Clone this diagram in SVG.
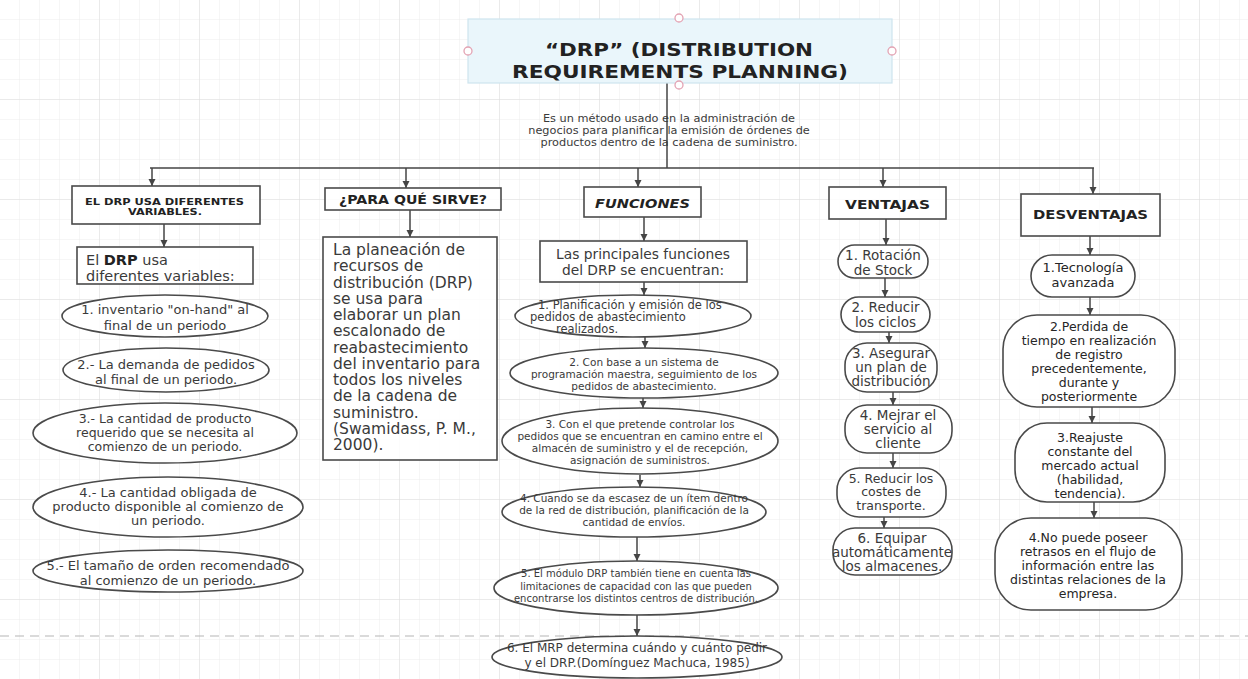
<svg xmlns="http://www.w3.org/2000/svg" width="1248" height="679" viewBox="0 0 1248 679">
<style>
.ln{stroke:#454545;stroke-width:1.5;fill:none}
.ar{stroke:#454545;stroke-width:1.5;fill:none;marker-end:url(#ah)}
.box{fill:#fff;fill-opacity:0.85;stroke:#4a4a4a;stroke-width:1.6}
.t{font-family:"DejaVu Sans","Liberation Sans",sans-serif;fill:#3a3a3a}
.c{text-anchor:middle}
.hd{font-family:"DejaVu Sans","Liberation Sans",sans-serif;font-weight:bold;fill:#222;text-anchor:middle}
.dk{fill:#262626}
</style>
<defs>
<pattern id="g" width="20" height="20" patternUnits="userSpaceOnUse">
<path d="M20 0V20M0 20H20" stroke="#ececec" stroke-width="1" fill="none"/>
</pattern>
<pattern id="G" width="100" height="100" patternUnits="userSpaceOnUse">
<path d="M100 0V100M0 100H100" stroke="#dedede" stroke-width="1" fill="none"/>
</pattern>
<marker id="ah" markerWidth="8" markerHeight="8" refX="7" refY="4" orient="auto" markerUnits="userSpaceOnUse">
<path d="M0,0.5 L7,4 L0,7.5 Z" fill="#454545"/>
</marker>
</defs>
<rect width="1248" height="679" fill="#fff"/>
<rect width="1248" height="679" fill="url(#g)"/>
<rect width="1248" height="679" fill="url(#G)"/>
<line x1="0" y1="636" x2="1248" y2="636" stroke="#b5b5b5" stroke-width="1.2" stroke-dasharray="9 6"/>

<g id="connectors">
<line class="ln" x1="667" y1="83" x2="667" y2="168"/>
<line class="ln" x1="150" y1="168" x2="1094" y2="168"/>
<line class="ar" x1="152" y1="168" x2="152" y2="186"/>
<line class="ar" x1="406" y1="168" x2="406" y2="188"/>
<line class="ar" x1="638" y1="168" x2="638" y2="187"/>
<line class="ar" x1="883" y1="168" x2="883" y2="187"/>
<line class="ar" x1="1093" y1="168" x2="1093" y2="194"/>
<line class="ar" x1="164" y1="224" x2="164" y2="247"/>
<line class="ar" x1="410" y1="210" x2="410" y2="237"/>
<line class="ar" x1="644" y1="217" x2="644" y2="241"/>
<line class="ar" x1="644" y1="282" x2="644" y2="295"/>
<line class="ar" x1="645" y1="337" x2="645" y2="348"/>
<line class="ar" x1="643" y1="398" x2="643" y2="408"/>
<line class="ar" x1="640" y1="475" x2="640" y2="487"/>
<line class="ar" x1="637" y1="537" x2="637" y2="561"/>
<line class="ar" x1="637" y1="615" x2="637" y2="636"/>
<line class="ar" x1="886" y1="219" x2="886" y2="245"/>
<line class="ar" x1="885" y1="278" x2="885" y2="297"/>
<line class="ar" x1="889" y1="332" x2="889" y2="343"/>
<line class="ar" x1="893" y1="392" x2="893" y2="405"/>
<line class="ar" x1="893" y1="453" x2="893" y2="468"/>
<line class="ar" x1="884" y1="517" x2="884" y2="528"/>
<line class="ar" x1="1090" y1="236" x2="1090" y2="255"/>
<line class="ar" x1="1090" y1="297" x2="1090" y2="315"/>
<line class="ar" x1="1092" y1="407" x2="1092" y2="423"/>
<line class="ar" x1="1094" y1="502" x2="1094" y2="518"/>
</g>

<g id="title">
<rect x="468" y="19" width="424" height="64" fill="#eaf6fb" stroke="#cde4ee" stroke-width="1.2"/>
<text class="hd" x="679" y="56" font-size="18.5" textLength="268" lengthAdjust="spacingAndGlyphs" fill="#111">“DRP” (DISTRIBUTION</text>
<text class="hd" x="680" y="78" font-size="18.5" textLength="336" lengthAdjust="spacingAndGlyphs" fill="#111">REQUIREMENTS PLANNING)</text>
<g fill="#fff" stroke="#e3a3b3" stroke-width="1.3">
<circle cx="679" cy="18" r="4"/><circle cx="679" cy="85" r="4"/><circle cx="468" cy="51" r="4"/><circle cx="892" cy="51" r="4"/>
</g>
</g>

<g id="desc">
<text class="t c" x="669" y="122" font-size="11.3">Es un método usado en la administración de</text>
<text class="t c" x="669" y="134" font-size="11.3">negocios para planificar la emisión de órdenes de</text>
<text class="t c" x="669" y="146" font-size="11.3">productos dentro de la cadena de suministro.</text>
</g>

<g id="col1-header">
<rect class="box" x="72" y="186" width="188" height="38"/>
<text class="hd" x="164.5" y="204.5" font-size="9" textLength="159" lengthAdjust="spacingAndGlyphs" fill="#444">EL DRP USA DIFERENTES</text>
<text class="hd" x="165" y="214.5" font-size="9" textLength="74" lengthAdjust="spacingAndGlyphs" fill="#444">VARIABLES.</text>
</g>
<g id="col1-intro">
<rect class="box" x="77" y="247" width="176" height="37"/>
<text class="t" x="86" y="265" font-size="14.5">El <tspan font-weight="bold" fill="#222">DRP</tspan> usa</text>
<text class="t" x="86" y="281" font-size="14.5">diferentes variables:</text>
</g>
<g id="col1-v1">
<ellipse class="box" cx="165" cy="316" rx="103" ry="21"/>
<text class="t c" x="165" y="314" font-size="13">1. inventario "on-hand" al</text>
<text class="t c" x="165" y="330" font-size="13">final de un periodo</text>
</g>
<g id="col1-v2">
<ellipse class="box" cx="166" cy="370" rx="103" ry="22"/>
<text class="t c" x="166" y="369" font-size="13">2.- La demanda de pedidos</text>
<text class="t c" x="166" y="384" font-size="13">al final de un periodo.</text>
</g>
<g id="col1-v3">
<ellipse class="box" cx="165" cy="433" rx="132" ry="30"/>
<text class="t c" x="165" y="423" font-size="12.5">3.- La cantidad de producto</text>
<text class="t c" x="165" y="437" font-size="12.5">requerido que se necesita al</text>
<text class="t c" x="165" y="451" font-size="12.5">comienzo de un periodo.</text>
</g>
<g id="col1-v4">
<ellipse class="box" cx="168" cy="507" rx="135" ry="30"/>
<text class="t c" x="168" y="497" font-size="13">4.- La cantidad obligada de</text>
<text class="t c" x="168" y="511" font-size="13">producto disponible al comienzo de</text>
<text class="t c" x="168" y="525" font-size="13">un periodo.</text>
</g>
<g id="col1-v5">
<ellipse class="box" cx="168" cy="571" rx="135" ry="21"/>
<text class="t c" x="168" y="570" font-size="13">5.- El tamaño de orden recomendado</text>
<text class="t c" x="168" y="585" font-size="13">al comienzo de un periodo.</text>
</g>

<g id="col2-header">
<rect class="box" x="325" y="188" width="176" height="22"/>
<text class="hd" x="413" y="204" font-size="12" textLength="148" lengthAdjust="spacingAndGlyphs">¿PARA QUÉ SIRVE?</text>
</g>
<g id="col2-body">
<rect class="box" x="323" y="237" width="174" height="223"/>
<g class="t" font-size="15.5">
<text x="333" y="255">La planeación de</text>
<text x="333" y="271">recursos de</text>
<text x="333" y="287.5">distribución (DRP)</text>
<text x="333" y="304">se usa para</text>
<text x="333" y="320">elaborar un plan</text>
<text x="333" y="336">escalonado de</text>
<text x="333" y="352.5">reabastecimiento</text>
<text x="333" y="369">del inventario para</text>
<text x="333" y="385">todos los niveles</text>
<text x="333" y="401">de la cadena de</text>
<text x="333" y="417.5">suministro.</text>
<text x="333" y="434">(Swamidass, P. M.,</text>
<text x="333" y="450">2000).</text>
</g>
</g>

<g id="col3-header">
<rect class="box" x="584" y="187" width="117" height="30"/>
<text class="hd" x="642.5" y="208" font-size="13" font-style="italic" textLength="95" lengthAdjust="spacingAndGlyphs">FUNCIONES</text>
</g>
<g id="col3-intro">
<rect class="box" x="540" y="241" width="207" height="41"/>
<text class="t c" x="643" y="259" font-size="13.8">Las principales funciones</text>
<text class="t c" x="643" y="275" font-size="13.8">del DRP se encuentran:</text>
</g>
<g id="col3-f1">
<ellipse class="box" cx="633" cy="316" rx="118" ry="21"/>
<text class="t" x="538" y="309" font-size="11.5">1. Planificación y emisión de los</text>
<text class="t" x="530" y="321" font-size="11.5">pedidos de abastecimiento</text>
<text class="t" x="556" y="333" font-size="11.5">realizados.</text>
</g>
<g id="col3-f2">
<ellipse class="box" cx="644" cy="373" rx="134" ry="25"/>
<text class="t c" x="644" y="366" font-size="10.5">2. Con base a un sistema de</text>
<text class="t c" x="644" y="378" font-size="10.5">programación maestra, seguimiento de los</text>
<text class="t c" x="644" y="390" font-size="10.5">pedidos de abastecimiento.</text>
</g>
<g id="col3-f3">
<ellipse class="box" cx="640" cy="441" rx="138" ry="33"/>
<text class="t c" x="640" y="428" font-size="10.5">3. Con el que pretende controlar los</text>
<text class="t c" x="640" y="440" font-size="10.5">pedidos que se encuentran en camino entre el</text>
<text class="t c" x="640" y="452" font-size="10.5">almacén de suministro y el de recepción,</text>
<text class="t c" x="640" y="464" font-size="10.5">asignación  de suministros.</text>
</g>
<g id="col3-f4">
<ellipse class="box" cx="634" cy="512" rx="132" ry="25"/>
<text class="t c" x="634" y="502" font-size="10.5">4. Cuando se da escasez de un ítem dentro</text>
<text class="t c" x="634" y="514" font-size="10.5">de la red de distribución, planificación de la</text>
<text class="t c" x="634" y="526" font-size="10.5">cantidad de envíos.</text>
</g>
<g id="col3-f5">
<ellipse class="box" cx="636" cy="588" rx="142" ry="27"/>
<text class="t c" x="636" y="577" font-size="10">5. El módulo DRP también tiene en cuenta las</text>
<text class="t c" x="636" y="590" font-size="10">limitaciones de capacidad con las que pueden</text>
<text class="t c" x="636" y="602" font-size="10">encontrarse los distintos centros de distribución.</text>
</g>
<g id="col3-f6">
<ellipse class="box" cx="637" cy="657" rx="145" ry="21"/>
<text class="t c" x="637" y="652" font-size="12">6. El MRP determina cuándo y cuánto pedir</text>
<text class="t c" x="637" y="667" font-size="12">y el DRP.(Domínguez Machuca, 1985)</text>
</g>

<g id="col4-header">
<rect class="box" x="829" y="187" width="117" height="32"/>
<text class="hd" x="887.5" y="209" font-size="13" textLength="85" lengthAdjust="spacingAndGlyphs">VENTAJAS</text>
</g>
<g id="col4-v1">
<rect class="box" x="838" y="245" width="90" height="33" rx="16.5"/>
<text class="t c" x="883" y="259.5" font-size="13.5">1. Rotación</text>
<text class="t c" x="883" y="274.5" font-size="13.5">de Stock</text>
</g>
<g id="col4-v2">
<rect class="box" x="841" y="297" width="89" height="35" rx="17.5"/>
<text class="t c" x="885.5" y="311.5" font-size="13.5">2. Reducir</text>
<text class="t c" x="885.5" y="326.5" font-size="13.5">los ciclos</text>
</g>
<g id="col4-v3">
<rect class="box" x="845" y="343" width="92" height="49" rx="22"/>
<text class="t c" x="891" y="357.5" font-size="13.5">3. Asegurar</text>
<text class="t c" x="891" y="371.5" font-size="13.5">un plan de</text>
<text class="t c" x="891" y="386" font-size="13.5">distribución</text>
</g>
<g id="col4-v4">
<rect class="box" x="845" y="405" width="107" height="48" rx="22"/>
<text class="t c" x="898" y="419.5" font-size="13.5">4. Mejrar el</text>
<text class="t c" x="898" y="433.5" font-size="13.5">servicio al</text>
<text class="t c" x="898" y="447.5" font-size="13.5">cliente</text>
</g>
<g id="col4-v5">
<rect class="box" x="837" y="468" width="109" height="49" rx="22"/>
<text class="t c" x="891" y="482.5" font-size="12.5">5. Reducir los</text>
<text class="t c" x="891" y="496" font-size="12.5">costes de</text>
<text class="t c" x="891" y="509.5" font-size="12.5">transporte.</text>
</g>
<g id="col4-v6">
<rect class="box" x="833" y="528" width="119" height="47" rx="22"/>
<text class="t c" x="892" y="542.5" font-size="13.5">6. Equipar</text>
<text class="t c" x="892" y="556.5" font-size="13.5">automáticamente</text>
<text class="t c" x="892" y="570.5" font-size="13.5">los almacenes.</text>
</g>

<g id="col5-header">
<rect class="box" x="1021" y="194" width="139" height="42"/>
<text class="hd" x="1090.5" y="219" font-size="13" textLength="115" lengthAdjust="spacingAndGlyphs">DESVENTAJAS</text>
</g>
<g id="col5-d1">
<rect class="box" x="1031" y="255" width="104" height="42" rx="21"/>
<text class="t c dk" x="1083" y="271.5" font-size="13">1.Tecnología</text>
<text class="t c dk" x="1083" y="286.5" font-size="13">avanzada</text>
</g>
<g id="col5-d2">
<rect class="box" x="1003" y="315" width="172" height="92" rx="34"/>
<g class="t c dk" font-size="12.5">
<text x="1089" y="330.5">2.Perdida de</text>
<text x="1089" y="344.5">tiempo en realización</text>
<text x="1089" y="358.5">de registro</text>
<text x="1089" y="372.5">precedentemente,</text>
<text x="1089" y="386.5">durante y</text>
<text x="1089" y="400.5">posteriormente</text>
</g>
</g>
<g id="col5-d3">
<rect class="box" x="1015" y="423" width="150" height="79" rx="32"/>
<g class="t c dk" font-size="12.5">
<text x="1090" y="441.5">3.Reajuste</text>
<text x="1090" y="455.5">constante del</text>
<text x="1090" y="469.5">mercado actual</text>
<text x="1090" y="483.5">(habilidad,</text>
<text x="1090" y="497.5">tendencia).</text>
</g>
</g>
<g id="col5-d4">
<rect class="box" x="995" y="518" width="187" height="92" rx="36"/>
<g class="t c dk" font-size="12.5">
<text x="1088" y="541.5">4.No puede poseer</text>
<text x="1088" y="555.5">retrasos en el flujo de</text>
<text x="1088" y="569.5">información entre las</text>
<text x="1088" y="583.5">distintas relaciones de la</text>
<text x="1088" y="597.5">empresa.</text>
</g>
</g>
</svg>
